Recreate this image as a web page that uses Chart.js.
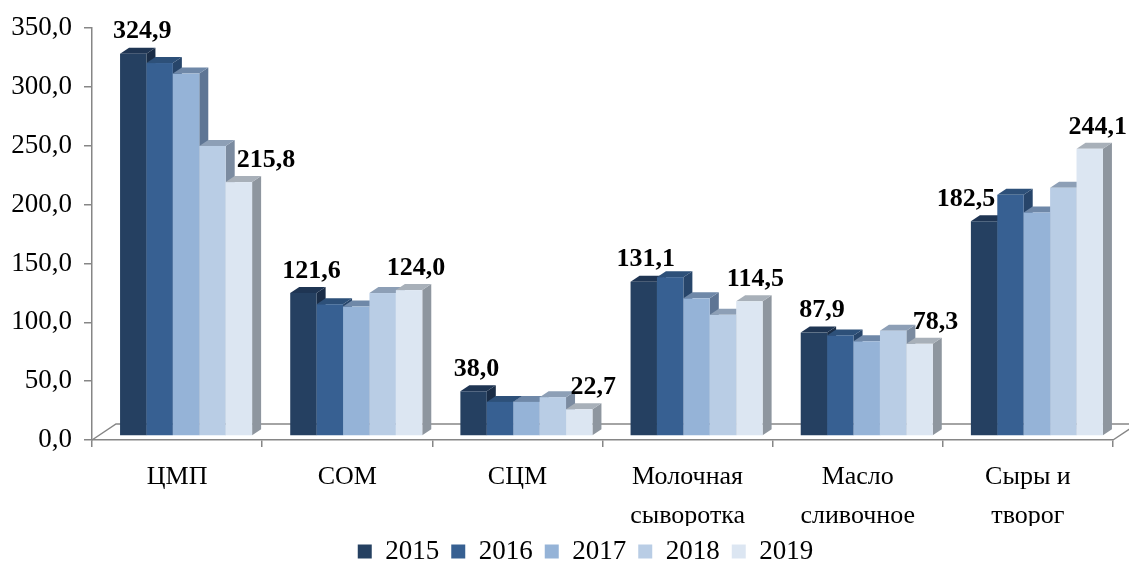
<!DOCTYPE html>
<html>
<head>
<meta charset="utf-8">
<script src="https://cdn.jsdelivr.net/npm/chart.js@4.4.0/dist/chart.umd.min.js"></script>
<style>
  html, body { margin: 0; padding: 0; background: #fff; }
</style>
</head>
<body>
<canvas id="milkChart" width="1129" height="563"></canvas>
<script>
var categories = [["ЦМП"], ["СОМ"], ["СЦМ"], ["Молочная", "сыворотка"], ["Масло", "сливочное"], ["Сыры и", "творог"]];
var years = ["2015", "2016", "2017", "2018", "2019"];
var values2015 = [324.9, 121.6, 38.0, 131.1, 87.9, 182.5];
var values2016 = [317.0, 112.0, 29.0, 135.0, 85.5, 205.0];
var values2017 = [308.0, 110.0, 29.0, 117.0, 80.5, 190.0];
var values2018 = [246.5, 121.5, 33.0, 103.0, 89.5, 211.0];
var values2019 = [215.8, 124.0, 22.7, 114.5, 78.3, 244.1];
var yTickStep = 50;
var yMax = 350;

// only the first and last year carry value labels
var labelledSeries = [0, 4];

var frontColors = ["#254061", "#376092", "#95B3D7", "#B9CDE5", "#DCE6F2"];
var topColors = ["#1F3553", "#2D5079", "#6F88A8", "#8D9FB6", "#A8B0B9"];
var sideColors = ["#1A2D47", "#27456A", "#5E7594", "#7B8BA0", "#8E969F"];
var axisColor = "#868686";

// horizontal nudges of the value labels (px), per series
var labelShift = { 0: [9, 8, 3, 2, 8, -18], 4: [27, 7, 14, 6, 16, 8] };

function fmt(v) {
  return v.toFixed(1).replace(".", ",");
}

var seriesValues = [values2015, values2016, values2017, values2018, values2019];

Chart.defaults.font.family = '"Liberation Serif", "Times New Roman", serif';
Chart.defaults.font.size = 26;
Chart.defaults.color = "#000";

// draws the bars as 3D boxes, category by category, left to right
var bars3d = {
  id: "bars3d",
  beforeInit: function (chart) {
    if (chart.legend) {
      var fit = chart.legend.fit;
      chart.legend.fit = function () {
        fit.call(this);
        this.height = 37;
      };
    }
  },
  afterLayout: function (chart) {
    // legend sits a little right of the canvas centre
    if (chart.legend) chart.legend.left = 58;
  },
  beforeDatasetsDraw: function (chart) {
    var ctx = chart.ctx;
    var area = chart.chartArea;
    var zero = chart.scales.y.getPixelForValue(0);
    var ox = 9, oy = -4;      // bars stand a bit back on the floor
    var dx = 9, dy = -6;      // bar depth

    ctx.save();
    // floor
    ctx.strokeStyle = axisColor;
    ctx.lineWidth = 1.5;
    ctx.beginPath();
    ctx.moveTo(area.left, zero);
    ctx.lineTo(area.left + 24, zero - 16);
    ctx.lineTo(chart.width, zero - 16);
    ctx.moveTo(area.right, zero);
    ctx.lineTo(area.right + 24, zero - 16);
    ctx.stroke();

    for (var c = 0; c < categories.length; c++) {
      for (var d = 0; d < chart.data.datasets.length; d++) {
        var bar = chart.getDatasetMeta(d).data[c];
        var x0 = bar.x - bar.width / 2 + ox;
        var x1 = x0 + bar.width;
        var yt = bar.y + oy;
        var yb = bar.base + oy;

        // side
        ctx.fillStyle = sideColors[d];
        ctx.beginPath();
        ctx.moveTo(x1, yt);
        ctx.lineTo(x1 + dx, yt + dy);
        ctx.lineTo(x1 + dx, yb + dy);
        ctx.lineTo(x1, yb);
        ctx.closePath();
        ctx.fill();

        // top
        ctx.fillStyle = topColors[d];
        ctx.beginPath();
        ctx.moveTo(x0, yt);
        ctx.lineTo(x0 + dx, yt + dy);
        ctx.lineTo(x1 + dx, yt + dy);
        ctx.lineTo(x1, yt);
        ctx.closePath();
        ctx.fill();

        // front
        ctx.fillStyle = frontColors[d];
        ctx.fillRect(x0, yt, bar.width, yb - yt);
      }
    }

    // value labels
    ctx.fillStyle = "#000";
    ctx.font = 'bold 26px "Liberation Serif", "Times New Roman", serif';
    ctx.textAlign = "center";
    ctx.textBaseline = "middle";
    labelledSeries.forEach(function (d) {
      chart.getDatasetMeta(d).data.forEach(function (bar, c) {
        var v = seriesValues[d][c];
        ctx.fillText(fmt(v), bar.x + ox + labelShift[d][c], bar.y + oy - 22);
      });
    });
    ctx.restore();
    return false;
  }
};

var datasets = years.map(function (year, i) {
  return {
    label: year,
    data: seriesValues[i],
    backgroundColor: frontColors[i],
    borderWidth: 0,
    categoryPercentage: 0.776,
    barPercentage: 1.0
  };
});

var milkChart = new Chart(document.getElementById("milkChart").getContext("2d"), {
  type: "bar",
  data: {
    labels: categories,
    datasets: datasets
  },
  options: {
    responsive: false,
    animation: false,
    layout: {
      padding: { top: 25, right: 16, left: 0, bottom: 0 }
    },
    scales: {
      x: {
        grid: { drawOnChartArea: false, tickLength: 7, color: axisColor, lineWidth: 1.5 },
        border: { color: axisColor, width: 1.5 },
        ticks: { padding: 10, font: { size: 26, lineHeight: 1.52 } },
        afterFit: function (scale) {
          scale.height = 86;
        }
      },
      y: {
        min: 0,
        max: yMax,
        grid: { drawOnChartArea: false, tickLength: 8, color: axisColor, lineWidth: 1.5 },
        border: { color: axisColor, width: 1.5 },
        ticks: {
          stepSize: yTickStep,
          padding: 12,
          font: { size: 27 },
          callback: function (value) {
            return fmt(value);
          }
        },
        afterFit: function (scale) {
          scale.width = 92;
        }
      }
    },
    plugins: {
      legend: {
        position: "bottom",
        labels: { boxWidth: 14, boxHeight: 14, padding: 12, font: { size: 27 } }
      },
      tooltip: { enabled: false }
    }
  },
  plugins: [bars3d]
});
</script>
</body>
</html>
